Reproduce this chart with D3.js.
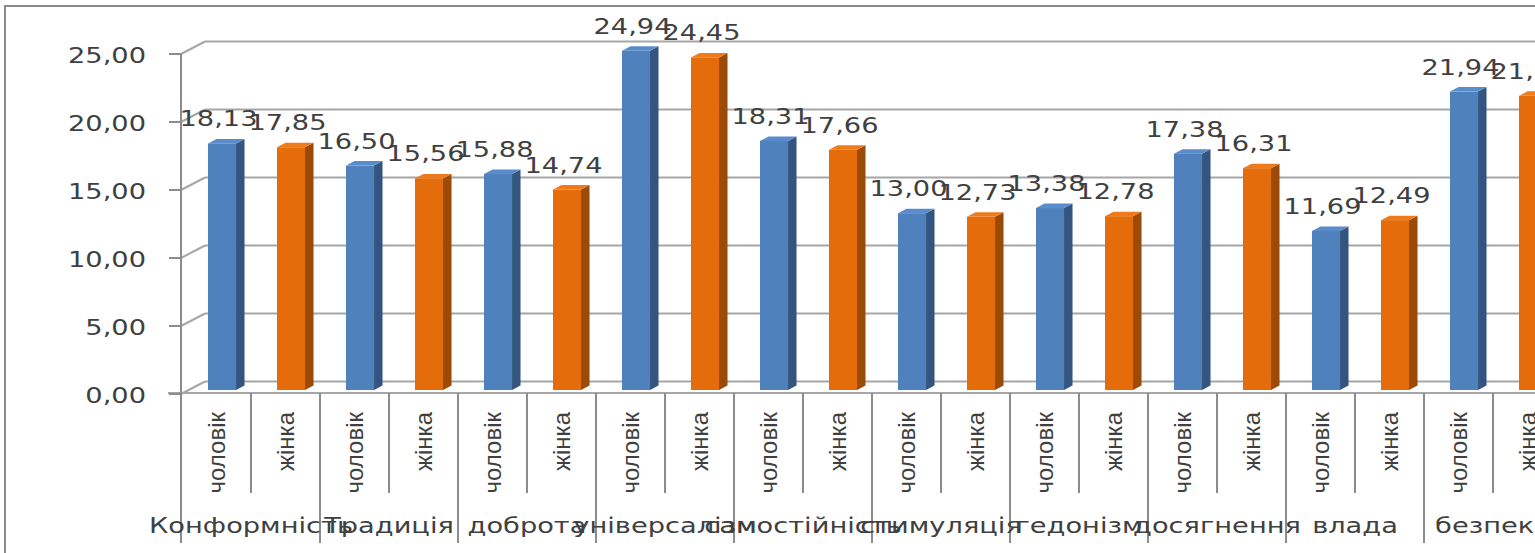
<!DOCTYPE html>
<html>
<head>
<meta charset="utf-8">
<script src="https://cdn.jsdelivr.net/npm/d3@7"></script>
<style>
  html, body { margin: 0; padding: 0; background: #fff; }
  svg { display: block; }
</style>
</head>
<body>
<svg id="chart" width="1535" height="553"></svg>
<script>
// Value scores by gender for each value type
const categories = ["Конформність", "Традиція", "доброта", "універсалізм", "самостійність",
                    "стимуляція", "гедонізм", "досягнення", "влада", "безпека"];
const genders = ["чоловік", "жінка"];
const maleValues   = [18.13, 16.50, 15.88, 24.94, 18.31, 13.00, 13.38, 17.38, 11.69, 21.94];
const femaleValues = [17.85, 15.56, 14.74, 24.45, 17.66, 12.73, 12.78, 16.31, 12.49, 21.63];
const yTicks = [0, 5, 10, 15, 20, 25];

const seriesValues = [maleValues, femaleValues];
const rows = [];
categories.forEach((c, ci) => {
  genders.forEach((g, gi) => {
    rows.push({ key: ci + "|" + g, category: c, gender: g, gi, value: seriesValues[gi][ci] });
  });
});

const svg = d3.select("#chart");
const fmt = v => d3.format(".2f")(v).replace(".", ",");

const textColor = "#404040";
const gridColor = "#a6a6a6";
const axisColor = "#8c8c8c";
const stretch = 1.33;                 // wide lettering of the horizontal labels

// 3D wall geometry
const depthX = 24, depthY = -12.5;
const plotLeft = 181;
const slotW = 69;

const x = d3.scaleBand()
  .domain(rows.map(r => r.key))
  .range([plotLeft + 1, plotLeft + 1 + rows.length * slotW])
  .padding(0);

const yFront = d3.scaleLinear().domain([0, 25]).range([394, 54]);
const yBar = d3.scaleLinear().domain([0, 25]).range([390, 50]);

// outer frame
svg.append("path")
  .attr("d", `M5,553 L5,6 L1535,6`)
  .attr("fill", "none").attr("stroke", "#8a8a8a").attr("stroke-width", 2);

// back wall gridlines + side wall diagonals
const grid = svg.append("g");
yTicks.forEach(t => {
  const yf = yFront(t), yb = yf + depthY;
  grid.append("line")
    .attr("x1", plotLeft + depthX).attr("x2", 1540)
    .attr("y1", yb).attr("y2", yb)
    .attr("stroke", gridColor).attr("stroke-width", 2);
  grid.append("line")
    .attr("x1", plotLeft).attr("x2", plotLeft + depthX)
    .attr("y1", yf).attr("y2", yb)
    .attr("stroke", gridColor).attr("stroke-width", 2);
});

// floor front edge
svg.append("line")
  .attr("x1", 168).attr("x2", 1540)
  .attr("y1", 393).attr("y2", 393)
  .attr("stroke", gridColor).attr("stroke-width", 2);

// y axis line and ticks
svg.append("line")
  .attr("x1", plotLeft).attr("x2", plotLeft)
  .attr("y1", yFront(25)).attr("y2", 543)
  .attr("stroke", axisColor).attr("stroke-width", 2);

const yAxis = svg.append("g");
yTicks.forEach(t => {
  yAxis.append("line")
    .attr("x1", plotLeft - 12).attr("x2", plotLeft)
    .attr("y1", yFront(t)).attr("y2", yFront(t))
    .attr("stroke", axisColor).attr("stroke-width", 2);
  yAxis.append("text")
    .attr("transform", `translate(146,${yFront(t) + 9}) scale(${stretch},1)`)
    .attr("text-anchor", "end")
    .attr("font-family", "DejaVu Sans")
    .attr("font-size", 20.5)
    .attr("fill", textColor)
    .text(fmt(t));
});

// category ticks below the floor
const tickG = svg.append("g");
d3.range(1, rows.length + 1).forEach(i => {
  const xx = x.range()[0] + i * x.bandwidth();
  tickG.append("line")
    .attr("x1", xx).attr("x2", xx)
    .attr("y1", 393).attr("y2", i % 2 === 0 ? 543 : 493)
    .attr("stroke", axisColor).attr("stroke-width", 2);
});

// bars
const colors = [
  { front: "#4f81bd", side: "#34557f", top: "#5a8ccb" },
  { front: "#e46c0a", side: "#9c4a08", top: "#ee7a1c" }
];
const barG = svg.append("g");
const bx0 = 0.377, bwF = 0.406, bdx = 8.5, bdy = -4.5;
rows.forEach(r => {
  const c = colors[r.gi];
  const left = x(r.key) + x.bandwidth() * bx0;
  const w = x.bandwidth() * bwF;
  const yt = yBar(r.value), yb = yBar(0);
  // side
  barG.append("path")
    .attr("d", `M${left + w},${yt} L${left + w + bdx},${yt + bdy} L${left + w + bdx},${yb + bdy} L${left + w},${yb} Z`)
    .attr("fill", c.side);
  // top
  barG.append("path")
    .attr("d", `M${left},${yt} L${left + bdx},${yt + bdy} L${left + w + bdx},${yt + bdy} L${left + w},${yt} Z`)
    .attr("fill", c.top);
  // front
  barG.append("rect")
    .attr("x", left).attr("y", yt)
    .attr("width", w).attr("height", yb - yt)
    .attr("fill", c.front);
});

// value labels
const labG = svg.append("g");
rows.forEach(r => {
  const cx = x(r.key) + x.bandwidth() / 2 + 2;
  labG.append("text")
    .attr("transform", `translate(${cx},${yBar(r.value) - 17}) scale(${stretch},1)`)
    .attr("text-anchor", "middle")
    .attr("font-family", "DejaVu Sans")
    .attr("font-size", 20.5)
    .attr("fill", textColor)
    .text(fmt(r.value));
});

// gender labels (rotated)
const gG = svg.append("g");
rows.forEach(r => {
  const cx = x(r.key) + x.bandwidth() / 2;
  gG.append("text")
    .attr("transform", `translate(${cx},412) rotate(-90)`)
    .attr("text-anchor", "end")
    .attr("y", 8)
    .attr("font-family", "Liberation Sans")
    .attr("font-size", 24)
    .attr("fill", textColor)
    .text(r.gender);
});

// category labels
const cG = svg.append("g");
categories.forEach((c, ci) => {
  const cx = x(ci + "|" + genders[0]) + x.bandwidth();
  cG.append("text")
    .attr("transform", `translate(${cx},533) scale(${stretch},1)`)
    .attr("text-anchor", "middle")
    .attr("font-family", "DejaVu Sans")
    .attr("font-size", 20.5)
    .attr("fill", textColor)
    .text(c);
});
</script>
</body>
</html>
